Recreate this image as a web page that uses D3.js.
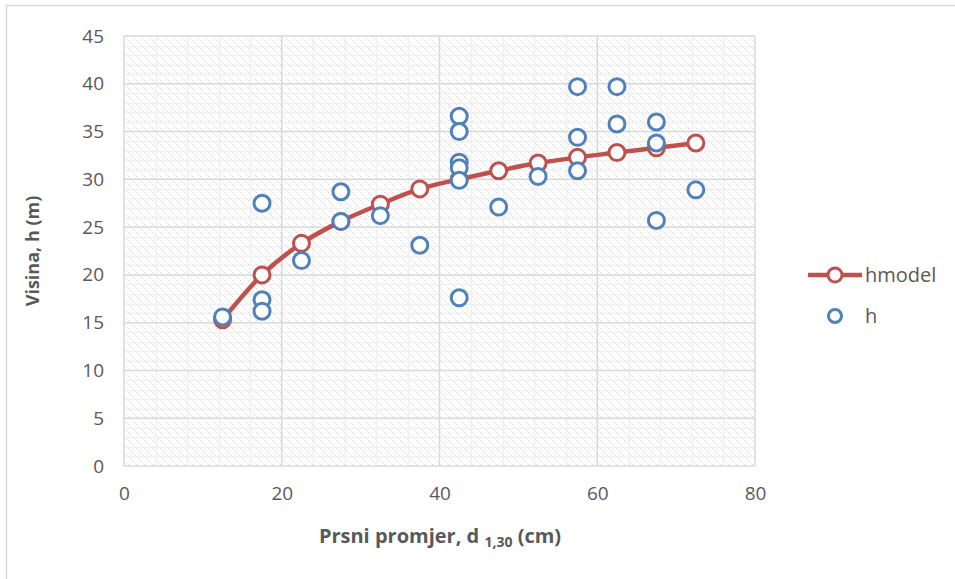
<!DOCTYPE html>
<html><head><meta charset="utf-8">
<script src="https://cdn.jsdelivr.net/npm/d3@7"></script>
<style>body{margin:0;background:#fff;} text{font-family:"Open Sans",sans-serif;}</style>
</head><body>
<svg id="c" width="955" height="579"></svg>
<script>
const modelD = [12.5,17.5,22.5,27.5,32.5,37.5,42.5,47.5,52.5,57.5,62.5,67.5,72.5];
const modelH = [15.3,20.0,23.3,25.6,27.4,29.0,30.0,30.9,31.7,32.3,32.8,33.3,33.8];
const obsD = [12.5,17.5,17.5,17.5,22.5,27.5,27.5,32.5,37.5,42.5,42.5,42.5,42.5,42.5,42.5,47.5,52.5,57.5,57.5,57.5,62.5,62.5,67.5,67.5,67.5,72.5];
const obsH = [15.6,27.5,17.4,16.2,21.5,28.7,25.6,26.2,23.1,36.6,35.0,31.8,31.2,29.9,17.6,27.1,30.3,39.7,34.4,30.9,39.7,35.8,36.0,33.8,25.7,28.9];
const xTicks = [0,20,40,60,80];
const yTicks = [0,5,10,15,20,25,30,35,40,45];
const seriesNames = ["hmodel","h"];

const svg = d3.select("#c");
const x = d3.scaleLinear().domain([0,80]).range([124,755]);
const y = d3.scaleLinear().domain([0,45]).range([466,36]);
const FONT = "'Open Sans',sans-serif";

svg.append("rect").attr("x",6.5).attr("y",5.5).attr("width",960).attr("height",600)
  .attr("fill","#fff").attr("stroke","#d9d9d9").attr("stroke-width",1.5);

const defs = svg.append("defs");
const pat = defs.append("pattern").attr("id","hatch").attr("patternUnits","userSpaceOnUse")
  .attr("width",8).attr("height",8);
pat.append("rect").attr("width",8).attr("height",8).attr("fill","#fff");
pat.append("path").attr("d","M0,0L8,8M-1,7L1,9M7,-1L9,1").attr("stroke","#d4d4d4").attr("stroke-width",1).attr("stroke-dasharray","1.5,1.5");

svg.append("rect").attr("x",x(0)).attr("y",y(45)).attr("width",x(80)-x(0)).attr("height",y(0)-y(45)).attr("fill","url(#hatch)");

const g = svg.append("g");
// minor grid
g.selectAll(".mh").data(d3.range(0,46,1).filter(v=>v%5)).join("line")
  .attr("x1",x(0)).attr("x2",x(80)).attr("y1",d=>Math.round(y(d))+0.5).attr("y2",d=>Math.round(y(d))+0.5)
  .attr("stroke","#f0f0f0").attr("stroke-width",1.5);
g.selectAll(".mv").data(d3.range(0,81,4).filter(v=>v%20)).join("line")
  .attr("y1",y(0)).attr("y2",y(45)).attr("x1",d=>Math.round(x(d))+0.5).attr("x2",d=>Math.round(x(d))+0.5)
  .attr("stroke","#f0f0f0").attr("stroke-width",1.5);
// major grid
g.selectAll(".Mh").data(yTicks).join("line")
  .attr("x1",x(0)).attr("x2",x(80)).attr("y1",d=>y(d)).attr("y2",d=>y(d))
  .attr("stroke","#d9d9d9").attr("stroke-width",1.5);
g.selectAll(".Mv").data(xTicks).join("line")
  .attr("y1",y(0)).attr("y2",y(45)).attr("x1",d=>x(d)).attr("x2",d=>x(d))
  .attr("stroke","#d9d9d9").attr("stroke-width",1.5);

// axes via d3
const xAxis = svg.append("g").attr("transform",`translate(0,${y(0)})`)
  .call(d3.axisBottom(x).tickValues(xTicks).tickSize(0).tickPadding(21));
const yAxis = svg.append("g").attr("transform",`translate(${x(0)},0)`)
  .call(d3.axisLeft(y).tickValues(yTicks).tickSize(0).tickPadding(20));
[xAxis,yAxis].forEach(a=>{
  a.select(".domain").remove();
  a.selectAll("text").attr("fill","#595959").style("font-size","19px").style("font-family",FONT);
});

// model line
const red="#c0504d", blue="#4f81bd";
const model = modelD.map((d,i)=>({d,h:modelH[i]}));
const obs = obsD.map((d,i)=>({d,h:obsH[i]}));
svg.append("path").datum(model)
  .attr("d",d3.line().x(p=>x(p.d)).y(p=>y(p.h)).curve(d3.curveMonotoneX))
  .attr("fill","none").attr("stroke",red).attr("stroke-width",4.5).attr("stroke-linejoin","round");
svg.selectAll(".rm").data(model).join("circle")
  .attr("cx",p=>x(p.d)).attr("cy",p=>y(p.h)).attr("r",8)
  .attr("fill","#fff").attr("stroke",red).attr("stroke-width",3);
svg.selectAll(".bm").data(obs).join("circle")
  .attr("cx",p=>x(p.d)).attr("cy",p=>y(p.h)).attr("r",8)
  .attr("fill","#fff").attr("stroke",blue).attr("stroke-width",3);

// axis titles
svg.append("text").attr("transform","translate(39,251) rotate(-90)")
  .attr("text-anchor","middle").attr("fill","#595959").style("font-size","18px").style("font-weight","bold")
  .text("Visina, h (m)");
const xt = svg.append("text").attr("x",440).attr("y",543).attr("text-anchor","middle")
  .attr("fill","#595959").style("font-size","20px").style("font-weight","bold");
xt.append("tspan").text("Prsni promjer, d ");
xt.append("tspan").attr("dy",4).style("font-size","14px").text("1,30");
xt.append("tspan").attr("dy",-4).text(" (cm)");

// legend
const lg = svg.append("g");
lg.append("line").attr("x1",808).attr("x2",862).attr("y1",275).attr("y2",275).attr("stroke",red).attr("stroke-width",4.5);
lg.append("circle").attr("cx",835).attr("cy",275).attr("r",7).attr("fill","#fff").attr("stroke",red).attr("stroke-width",3);
lg.append("circle").attr("cx",835).attr("cy",316).attr("r",6.5).attr("fill","#fff").attr("stroke",blue).attr("stroke-width",3);
lg.selectAll("text").data(seriesNames).join("text")
  .attr("x",865).attr("y",(d,i)=>282+i*41).attr("fill","#595959").style("font-size","20px").text(d=>d);
</script>
</body></html>
